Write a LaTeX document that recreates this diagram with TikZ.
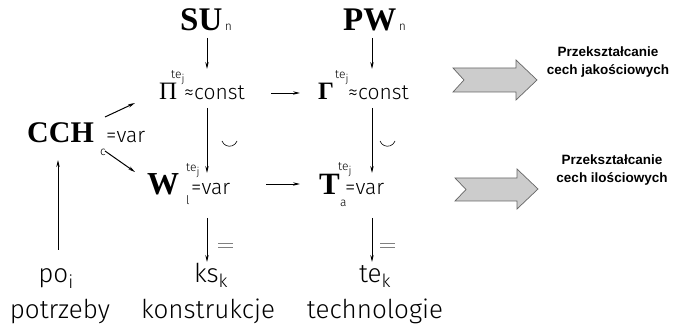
\documentclass[tikz,border=0pt]{standalone}
\usepackage{fontspec}
\setmainfont{Liberation Serif}
\newfontfamily\thin{Fira Sans Light}
\newfontfamily\lab{Liberation Sans}
\usetikzlibrary{arrows.meta}
\newcommand{\tej}{te\raisebox{-4pt}{\fontsize{11}{11}\selectfont j}}
\begin{document}
\begin{tikzpicture}[x=1pt,y=-1pt,
  arr/.style={-{Stealth[length=7pt,width=3.4pt]}, line width=0.7pt},
  t/.style={inner sep=0pt, anchor=base west},
  big/.style={t, font=\fontsize{33}{33}\selectfont\bfseries},
  greek/.style={t, font=\fontsize{25}{25}\selectfont},
  mid/.style={t, font=\thin\fontsize{21}{21}\selectfont},
  low/.style={inner sep=0pt, anchor=base, font=\thin\fontsize{26}{26}\selectfont},
  sm/.style={t, font=\thin\fontsize{12}{12}\selectfont},
  fat/.style={fill=black!20, draw=black!60, line width=0.7pt, line join=miter},
  note/.style={inner sep=0pt, align=center, font=\lab\bfseries\fontsize{13.5}{18}\selectfont}]
\useasboundingbox (0,0) rectangle (690,328);

% top
\node[big] (SU) at (180,31) {SU};
\node[sm] (SUn) at (SU.base east) {\,n};
\node[big] (PW) at (343,31) {PW};
\node[sm] (PWn) at (PW.base east) {\,n};

% Pi row
\node[greek] (Pi) at (159,100) {Π};
\node[sm] (Pite) at (171,79) {\tej};
\node[mid] (Pic) at (184,100) {≈const};
\node[greek,font=\fontsize{25}{25}\selectfont\bfseries] (Ga) at (318,100) {Γ};
\node[sm] (Gate) at (335,79) {\tej};
\node[mid] (Gac) at (348,100) {≈const};

% W row
\node[big, font=\fontsize{32}{32}\selectfont\bfseries] (W) at (147,195) {W};
\node[sm] (Wl) at (186,205) {l};
\node[sm] (Wte) at (186,172) {\tej};
\node[mid] (Wv) at (191,195) {=var};
\node[big, font=\fontsize{31}{31}\selectfont\bfseries] (T) at (319,195) {T};
\node[sm] (Ta) at (340,207) {a};
\node[sm] (Tte) at (338,171) {\tej};
\node[mid] (Tv) at (345,195) {=var};

% CCH
\node[big, font=\fontsize{30}{30}\selectfont\bfseries] (CCH) at (27,143) {CCH};
\node[sm] (CCHc) at (100,156) {c};
\node[mid] (CCHv) at (106,143) {=var};

% bottom
\node[low] (po) at (56,283) {po\textsubscript{i}};
\node[low] (potrz) at (60,318) {potrzeby};
\node[low] (ks) at (211,283) {ks\textsubscript{k}};
\node[low] (kon) at (208,318) {konstrukcje};
\node[low] (te) at (375,283) {te\textsubscript{k}};
\node[low] (tech) at (375,318) {technologie};

% coordinates for connectors
\coordinate (SUa) at (207,38);   \coordinate (SUb) at (207,69);
\coordinate (PWa) at (372,38);   \coordinate (PWb) at (372,69);
\coordinate (PGa) at (271,93);   \coordinate (PGb) at (300,93);
\coordinate (PiD) at (207,108);  \coordinate (WU) at (207,173);
\coordinate (GaD) at (372,108);  \coordinate (TU) at (372,173);
\coordinate (WTa) at (266,184);  \coordinate (WTb) at (300,184);
\coordinate (WD) at (207,218);   \coordinate (ksU) at (207,262);
\coordinate (TD) at (372,218);   \coordinate (teU) at (372,262);
\coordinate (poU) at (58,250);   \coordinate (CCHd) at (58,160);
\coordinate (Ca) at (105,117);   \coordinate (Cb) at (135,103);
\coordinate (Cc) at (105,151);   \coordinate (Cd) at (135,172);

\draw[arr] (SUa) -- (SUb);
\draw[arr] (PWa) -- (PWb);
\draw[arr] (PGa) -- (PGb);
\draw[arr] (PiD) -- (WU);
\draw[arr] (GaD) -- (TU);
\draw[arr] (WTa) -- (WTb);
\draw[arr] (WD) -- (ksU);
\draw[arr] (TD) -- (teU);
\draw[arr] (poU) -- (CCHd);
\draw[arr, line width=1pt] (Ca) -- (Cb);
\draw[arr, line width=1pt] (Cc) -- (Cd);

% small marks
\draw[line width=0.6pt] (222,141) arc[start angle=200, end angle=340, radius=8pt];
\draw[line width=0.6pt] (380,141) arc[start angle=200, end angle=340, radius=8pt];
\draw[black!50, line width=0.7pt] (218,243.5) -- (233,243.5) (218,247) -- (233,247);
\draw[black!50, line width=0.7pt] (380,243.5) -- (395,243.5) (380,247) -- (395,247);

% big arrows
\draw[fat] (453,68) -- (516,68) -- (516,60) -- (537,80) -- (516,100) -- (516,92) -- (453,92) -- (464,80) -- cycle;
\draw[fat] (455,178) -- (517,178) -- (517,169) -- (538,189) -- (517,209) -- (517,201) -- (455,201) -- (466,189.5) -- cycle;

\node[note] (n1) at (608,62) {Przekształcanie\\cech jakościowych};
\node[note] (n2) at (612,170) {Przekształcanie\\cech ilościowych};
\end{tikzpicture}
\end{document}
